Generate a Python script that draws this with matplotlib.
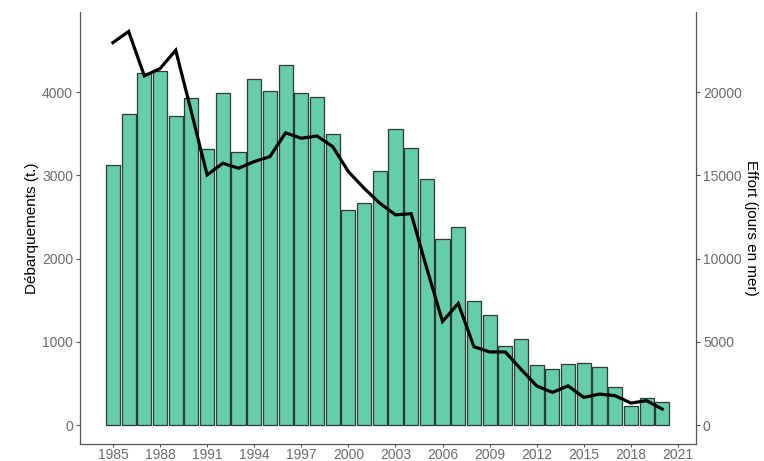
import matplotlib
matplotlib.use("Agg")
import matplotlib.pyplot as plt
import numpy as np

YEARS = list(range(1985, 2021))
LANDINGS = [3120, 3740, 4235, 4255, 3715, 3935, 3320, 3995, 3280, 4160,
            4020, 4325, 3995, 3945, 3495, 2585, 2665, 3050, 3560, 3335,
            2955, 2230, 2375, 1495, 1325, 945, 1035, 720, 670, 735,
            740, 700, 460, 225, 320, 275]
EFFORT = [22980, 23650, 20980, 21420, 22520, 18800, 15030, 15730, 15430, 15830,
          16130, 17560, 17230, 17370, 16730, 15230, 14230, 13330, 12630, 12700,
          9400, 6220, 7300, 4710, 4390, 4390, 3350, 2350, 1960, 2350,
          1660, 1860, 1760, 1320, 1460, 960]
XTICKS = list(range(1985, 2022, 3))

TICK_COLOR = "#6b6b6b"
FONT = ["Liberation Sans Narrow", "Liberation Sans", "DejaVu Sans"]


def main():
    plt.rcParams["font.family"] = FONT
    fig = plt.figure(figsize=(7.64, 4.61), dpi=100)
    ax = fig.add_axes([0.1047, 0.0369, 0.8063, 0.9371])

    ax.bar(YEARS, LANDINGS, width=0.9, color="#66CDAA", edgecolor="#2f3a35", linewidth=0.9)
    ax.set_xlim(1982.9, 2022.15)
    ax.set_ylim(-228, 4964)
    ax.set_yticks([0, 1000, 2000, 3000, 4000])
    ax.set_xticks(XTICKS)

    ax2 = ax.twinx()
    ax2.plot(YEARS, EFFORT, color="black", linewidth=2.3, solid_joinstyle="miter")
    lo, hi = ax.get_ylim()
    ax2.set_ylim(lo * 5, hi * 5)
    ax2.set_yticks([0, 5000, 10000, 15000, 20000])

    for a in (ax, ax2):
        a.spines["top"].set_visible(False)
        for s in a.spines.values():
            s.set_color("#555555")
            s.set_linewidth(0.9)
        a.tick_params(colors="#555555", labelcolor=TICK_COLOR, labelsize=10, length=3, width=0.8, pad=2)
        for lab in a.get_xticklabels() + a.get_yticklabels():
            lab.set_family(["Liberation Sans", "DejaVu Sans"])
    ax.tick_params(axis="x", pad=0.5, length=2.5)
    ax.spines["right"].set_visible(False)
    ax2.spines["left"].set_visible(False)
    ax2.spines["bottom"].set_visible(False)

    ax.set_ylabel("Débarquements (t.)", fontsize=11, labelpad=2)
    ax2.set_ylabel("Effort (jours en mer)", fontsize=11, rotation=-90, labelpad=12)

    fig.savefig("out.png")
    plt.close(fig)


if __name__ == "__main__":
    main()
